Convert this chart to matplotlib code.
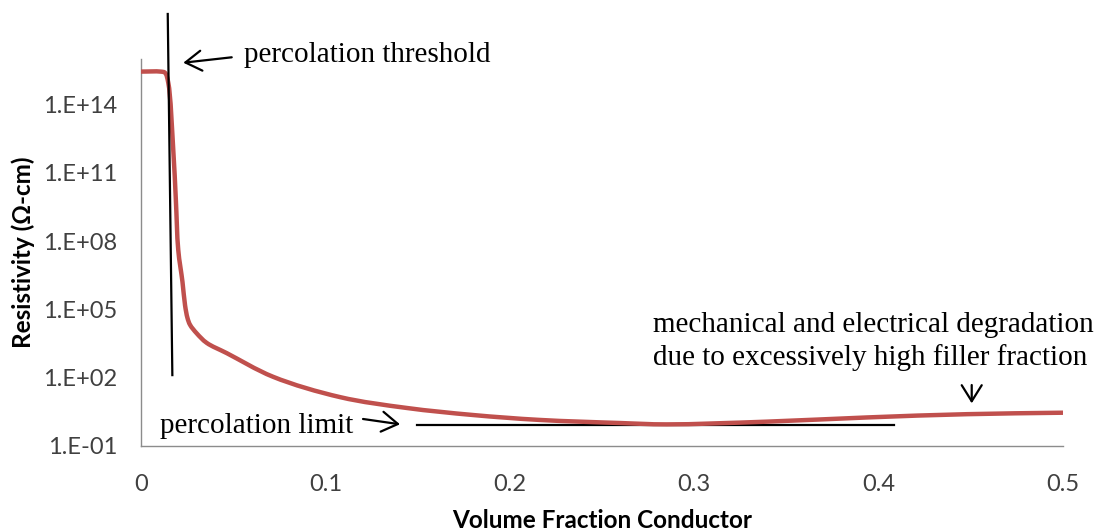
import matplotlib
matplotlib.use("Agg")
import numpy as np
import matplotlib.pyplot as plt
from matplotlib.path import Path
from matplotlib.patches import PathPatch
from matplotlib.ticker import FixedLocator, NullLocator

# Resistivity vs. conductive filler volume fraction
volume_fraction = [0.0, 0.0105, 0.0130, 0.0148, 0.0175, 0.0189, 0.0202,
                   0.0225, 0.0239, 0.0252, 0.0266, 0.0302, 0.0356, 0.0465,
                   0.0716, 0.108, 0.144, 0.180, 0.216, 0.260, 0.285, 0.339,
                   0.394, 0.448, 0.500]
resistivity = [2.8e15, 2.8e15, 2.5e15, 8.9e14, 1.0e12, 6.5e9, 4.1e7,
               1.6e6, 1.5e5, 4.2e4, 2.1e4, 8.9e3, 3.4e3, 1.2e3,
               1.1e2, 14.0, 4.7, 2.3, 1.4, 1.02, 0.89, 1.17,
               1.8, 2.5, 2.9]

y_tick_values = [1e-1, 1e2, 1e5, 1e8, 1e11, 1e14]
y_tick_labels = ["1.E-01", "1.E+02", "1.E+05", "1.E+08", "1.E+11", "1.E+14"]
x_tick_values = [0, 0.1, 0.2, 0.3, 0.4, 0.5]
x_tick_labels = ["0", "0.1", "0.2", "0.3", "0.4", "0.5"]

# Guide lines: percolation threshold (near-vertical) and percolation limit
threshold_x = [0.0145, 0.0170]
threshold_y = [9.5e17, 130.0]
limit_x = [0.1495, 0.4085]
limit_y = [0.84, 0.84]

SANS = ["Lato", "DejaVu Sans"]
SERIF = ["Liberation Serif", "DejaVu Serif"]


def smooth_path(points, alpha=0.5):
    """Centripetal Catmull-Rom spline through the points, as cubic Beziers."""
    pts = np.asarray(points, dtype=float)
    n = len(pts)
    verts = [pts[0]]
    codes = [Path.MOVETO]
    for i in range(n - 1):
        p1, p2 = pts[i], pts[i + 1]
        d2 = np.linalg.norm(p2 - p1) ** alpha
        if i > 0:
            p0 = pts[i - 1]
            d1 = np.linalg.norm(p1 - p0) ** alpha
            c1 = (d1 ** 2 * p2 - d2 ** 2 * p0
                  + (2 * d1 ** 2 + 3 * d1 * d2 + d2 ** 2) * p1) / (3 * d1 * (d1 + d2))
        else:
            c1 = p1 + (p2 - p1) / 3.0
        if i + 2 < n:
            p3 = pts[i + 2]
            d3 = np.linalg.norm(p3 - p2) ** alpha
            c2 = (d3 ** 2 * p1 - d2 ** 2 * p3
                  + (2 * d3 ** 2 + 3 * d3 * d2 + d2 ** 2) * p2) / (3 * d3 * (d3 + d2))
        else:
            c2 = p2 - (p2 - p1) / 3.0
        verts += [c1, c2, p2]
        codes += [Path.CURVE4] * 3
    return Path(verts, codes)


fig = plt.figure(figsize=(10.99, 5.31), dpi=100)
ax = fig.add_axes([141 / 1099, 85 / 531, 922 / 1099, 387 / 531])

ax.set_yscale("log")
ax.set_xlim(0, 0.5)
ax.set_ylim(1e-1, 1e16)

# smoothed resistivity curve: spline built in display space, drawn in axes space
disp_pts = ax.transData.transform(np.column_stack([volume_fraction, resistivity]))
curve = smooth_path(disp_pts)
curve = Path(ax.transAxes.inverted().transform(curve.vertices), curve.codes)
ax.add_patch(PathPatch(curve, transform=ax.transAxes, facecolor="none",
                       edgecolor="#C0504D", lw=3.2, capstyle="butt",
                       joinstyle="round", zorder=3))

ax.plot(threshold_x, threshold_y, color="black", lw=1.6, clip_on=False, zorder=4)
ax.plot(limit_x, limit_y, color="black", lw=1.6, zorder=2)

ax.yaxis.set_major_locator(FixedLocator(y_tick_values))
ax.yaxis.set_minor_locator(NullLocator())
ax.set_yticklabels(y_tick_labels)
ax.set_xticks(x_tick_values)
ax.set_xticklabels(x_tick_labels)

for side in ("top", "right"):
    ax.spines[side].set_visible(False)
for side in ("left", "bottom"):
    ax.spines[side].set_color("#8C8C8C")
    ax.spines[side].set_linewidth(1.0)

ax.tick_params(axis="both", length=0, colors="#404040", labelsize=17)
ax.tick_params(axis="y", pad=17)
ax.tick_params(axis="x", pad=20)
for lab in ax.get_xticklabels() + ax.get_yticklabels():
    lab.set_family(SANS)

ax.set_xlabel("Volume Fraction Conductor", family=SANS, fontsize=17.5,
              fontweight="bold")
ax.xaxis.set_label_coords(0.5, -0.163)
ax.set_ylabel("Resistivity (\u03A9-cm)", family=SANS, fontsize=17.5,
              fontweight="bold")
ax.yaxis.set_label_coords(-0.115, 0.5)

arrow = dict(arrowstyle="->, head_length=0.32, head_width=0.2", color="black",
             lw=1.6, mutation_scale=36, shrinkA=0, shrinkB=0)

# percolation threshold label and arrow
ax.text(0.1117, 0.993, "percolation threshold", transform=ax.transAxes,
        family=SERIF, fontsize=21, va="baseline", ha="left")
ax.annotate("", xy=(0.0459, 0.9904), xytext=(0.0984, 1.0044),
            xycoords="axes fraction", textcoords="axes fraction",
            arrowprops=arrow, annotation_clip=False)

# percolation limit label and arrow
ax.text(0.0206, 0.0344, "percolation limit", transform=ax.transAxes,
        family=SERIF, fontsize=21, va="baseline", ha="left")
ax.annotate("", xy=(0.2809, 0.0561), xytext=(0.2408, 0.0698),
            xycoords="axes fraction", textcoords="axes fraction",
            arrowprops=arrow)

# degradation note and arrow
ax.text(0.5556, 0.2953, "mechanical and electrical degradation",
        transform=ax.transAxes, family=SERIF, fontsize=21,
        va="baseline", ha="left", clip_on=False)
ax.text(0.5556, 0.2093, "due to excessively high filler fraction",
        transform=ax.transAxes, family=SERIF, fontsize=21,
        va="baseline", ha="left", clip_on=False)
ax.annotate("", xy=(0.9010, 0.1103), xytext=(0.9010, 0.1576),
            xycoords="axes fraction", textcoords="axes fraction",
            arrowprops=arrow)

fig.savefig("out.png", dpi=100)
